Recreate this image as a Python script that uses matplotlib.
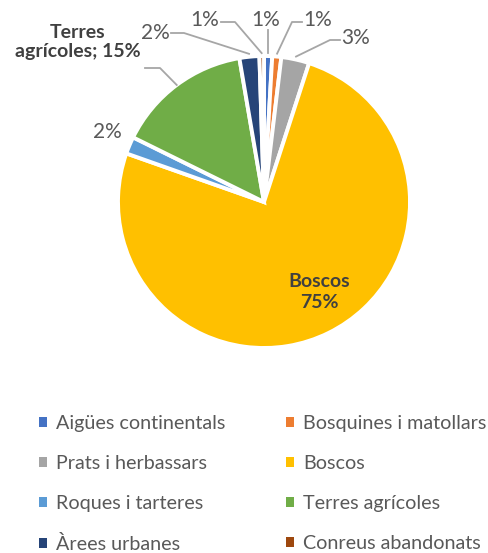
import numpy as np
import matplotlib
matplotlib.use("Agg")
import matplotlib.pyplot as plt
from matplotlib.patches import Patch

# Land-cover shares (%)
categories = ["Aigües continentals", "Bosquines i matollars", "Prats i herbassars",
              "Boscos", "Roques i tarteres", "Terres agrícoles", "Àrees urbanes",
              "Conreus abandonats"]
shares = [0.9, 1.0, 3.1, 75.4, 1.9, 15.0, 2.2, 0.5]
colors = ["#4472C4", "#ED7D31", "#A5A5A5", "#FFC000", "#5B9BD5", "#70AD47",
          "#264478", "#9E480E"]

W, H = 488, 553
fig = plt.figure(figsize=(W / 100, H / 100), dpi=100)
ax = fig.add_axes([0, 0, 1, 1])

cx, cy, R = 264, 202, 146
wedges, _ = ax.pie(shares, colors=colors, startangle=90, counterclock=False,
                   center=(cx, cy), radius=R, frame=True,
                   wedgeprops=dict(edgecolor="white", linewidth=2.8))
ax.set_xlim(0, W)
ax.set_ylim(H, 0)
ax.set_aspect("equal")
ax.axis("off")
# the y axis is inverted, so flip wedges back into screen orientation
for w in wedges:
    t1, t2 = w.theta1, w.theta2
    w.set_theta1(-t2)
    w.set_theta2(-t1)

txt = "#404040"
lab = "#595959"
line_c = "#A6A6A6"
font = "Lato"


def edge_point(i, r=1.0):
    w = wedges[i]
    ang = np.deg2rad((w.theta1 + w.theta2) / 2)
    return cx + r * R * np.cos(ang), cy + r * R * np.sin(ang)


def pct(i):
    # shares are rounded half up for the printed labels
    return f"{int(shares[i] + 0.5)}%"


# small-slice labels with leader lines: (index, label pos, elbow pos)
small = [
    (0, (266, 20), None),
    (1, (318, 20), (292, 22)),
    (2, (356, 38), (330, 40)),
    (6, (155, 33), (184, 33)),
    (7, (205, 20), (235, 22)),
]
for i, (lx, ly), elbow in small:
    ax.text(lx, ly, pct(i), ha="center", va="center", fontsize=15, color=lab,
            family=font)
    px, py = edge_point(i, 1.02)
    if elbow is None:
        ax.plot([px, px], [ly + 10, py], color=line_c, lw=1.3)
    else:
        ex, ey = elbow
        sx = lx + 16 if ex > lx else lx - 16
        ax.plot([sx, ex, px], [ey, ey, py], color=line_c, lw=1.3)

# Roques i tarteres
ax.text(107, 132, pct(4), ha="center", va="center", fontsize=15, color=lab,
        family=font)

# Terres agrícoles
ax.text(78, 42, f"Terres\nagrícoles; {pct(5)}", ha="center", va="center",
        fontsize=14, color=txt, family=font, fontweight="bold",
        linespacing=1.15)
px, py = edge_point(5, 1.0)
ax.plot([145, 160, px], [68, 68, py], color=line_c, lw=1.3)

# Boscos
ax.text(319, 292, f"Boscos\n{pct(3)}", ha="center", va="center", fontsize=14,
        color=txt, family=font, fontweight="bold", linespacing=1.3)

# Legend, filled row by row
order = [0, 2, 4, 6, 1, 3, 5, 7]
handles = [Patch(facecolor=colors[k], edgecolor="none") for k in order]
labels = [categories[k] for k in order]
leg = fig.legend(handles, labels, ncol=2, loc="upper left",
                 bbox_to_anchor=(21 / W, 1 - 397 / H), frameon=False,
                 handlelength=0.4, handleheight=0.4,
                 handletextpad=0.45, columnspacing=3.1, labelspacing=1.17,
                 prop=dict(family=font, size=14.2))
for t in leg.get_texts():
    t.set_color(lab)

fig.savefig("out.png", dpi=100)
